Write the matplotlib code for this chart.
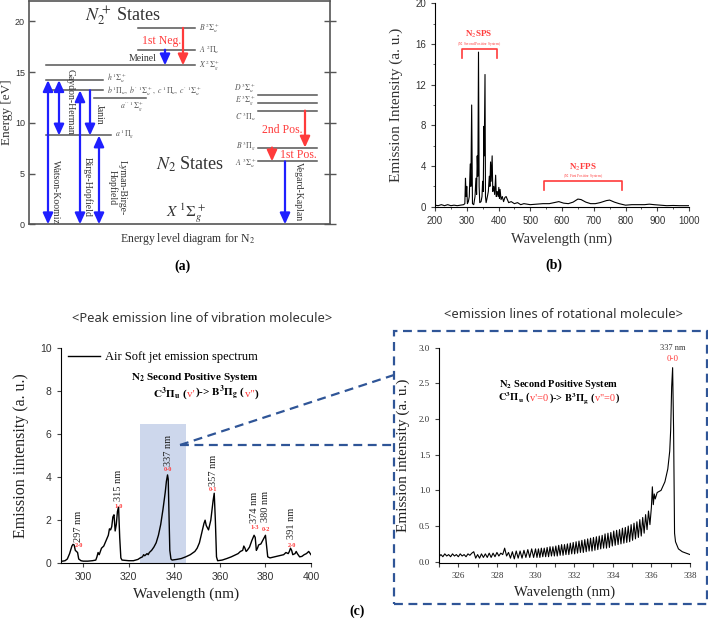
import numpy as np
import matplotlib
matplotlib.use('Agg')
import matplotlib.pyplot as plt
from matplotlib.patches import Rectangle
from matplotlib.lines import Line2D
from matplotlib.transforms import offset_copy
from matplotlib.ticker import MultipleLocator, FormatStrFormatter

plt.rcParams['font.family'] = ['Liberation Serif', 'DejaVu Serif']
plt.rcParams['mathtext.fontset'] = 'stix'

# ---------------- data: panel (a) energy levels ----------------
energy_ticks = [0, 5, 10, 15, 20]
level_labels = [r'$B\ ^2\Sigma_u^+$', r'$A\ ^2\Pi_u$', r'$X\ ^2\Sigma_g^+$',
                r'$h\ ^1\Sigma_u^+$',
                r"$b\ ^1\Pi_u,\ b'\ ^1\Sigma_u^+,\ c\ ^1\Pi_u,\ c'\ ^1\Sigma_u^+$",
                r"$a''\ ^1\Sigma_g^+$", r'$a\ ^1\Pi_g$',
                r'$D\ ^3\Sigma_u^+$', r'$E\ ^3\Sigma_g^+$', r'$C\ ^3\Pi_u$',
                r'$B\ ^3\Pi_g$', r'$A\ ^3\Sigma_u^+$']
level_energy = [19.35, 17.2, 15.66, 14.2, 13.2, 12.4, 8.75, 12.77, 11.95, 11.2, 7.56, 6.2]

trans_names = ['Watson-Koomiz', 'Gaydon-Herman', 'Birge-Hopfield', 'Janin',
               'Lyman-Birge-\nHopfield', 'Meinel', '1st Neg.', '2nd Pos.', '1st Pos.',
               'Vegard-Kaplan']
trans_upper = [14.2, 14.2, 13.2, 13.2, 8.75, 17.2, 19.35, 11.2, 7.56, 6.2]
trans_lower = [0.0, 8.75, 0.0, 8.75, 0.0, 15.66, 15.66, 7.56, 6.2, 0.0]

# ---------------- data: panel (b) full spectrum ----------------
wl_b = [200, 210, 220, 230, 240, 250, 260, 270, 280, 290,
        294, 296, 298, 300, 302, 305, 308, 311, 313, 315.5, 318, 322, 326, 329, 331,
        333, 335, 337, 339, 341, 345, 348, 350, 352, 354, 355, 357.5, 359, 361, 365,
        368, 371, 373, 375, 377, 380, 382, 385, 388, 391, 393, 396, 399, 401, 403,
        405, 408, 412, 416, 420, 424, 428, 432, 440, 450, 460, 470, 480, 500, 520,
        540, 560, 575, 590, 605, 620, 635, 650, 660, 675, 690, 705, 720, 740, 750,
        765, 780, 800, 820, 840, 860, 875, 890, 910, 930, 950, 970, 990, 1000]
int_b = [0.15, 0.1, 0.2, 0.1, 0.2, 0.1, 0.15, 0.1, 0.15, 0.2,
         0.3, 2.8, 1.0, 2.0, 0.3, 0.5, 1.0, 4.2, 2.0, 10.0, 0.3, 0.2, 1.0, 2.8, 1.2,
         5.0, 3.0, 15.2, 2.0, 0.4, 0.5, 1.0, 2.5, 1.5, 7.9, 5.0, 13.0, 1.0, 0.4, 1.0,
         1.5, 3.0, 2.0, 4.4, 2.5, 5.0, 1.5, 2.0, 1.2, 3.1, 1.0, 1.5, 1.0, 1.9, 0.8,
         1.7, 0.7, 1.0, 0.5, 0.9, 1.0, 0.7, 0.4, 0.5, 0.3, 0.4, 0.2, 0.3, 0.2, 0.25,
         0.3, 0.3, 0.4, 0.5, 0.35, 0.3, 0.45, 0.75, 0.7, 0.45, 0.3, 0.3, 0.4, 0.6, 0.65,
         0.45, 0.3, 0.15, 0.2, 0.2, 0.2, 0.25, 0.2, 0.15, 0.1, 0.12, 0.1, 0.1, 0.1]
sps_range = [285, 396]
fps_range = [544, 790]

# ---------------- data: panel (c) vibrational spectrum ----------------
wl_vib = [290, 291, 292, 293, 294, 295, 295.5, 296, 296.5, 297, 297.5, 298, 299, 300,
          302, 304, 305.5, 306, 306.5, 307, 307.5, 308, 309, 310, 311, 311.5, 312, 312.5,
          313, 313.5, 314, 314.5, 315, 315.5, 316, 316.5, 317, 320, 322, 324, 325, 326,
          326.5, 327, 328, 328.5, 329, 330, 331, 332, 333, 334, 335, 336, 336.5, 337,
          337.3, 337.7, 338, 338.5, 339, 341, 343, 345, 347, 349, 350, 351, 352, 353,
          353.5, 354, 355, 356, 357, 357.5, 358, 358.5, 359, 361, 363, 365, 367, 368,
          369, 370, 370.5, 371, 371.5, 372, 373, 374, 375, 375.5, 376, 376.5, 377, 378,
          379, 380, 380.5, 381, 382, 384, 386, 388, 389, 390, 390.5, 391, 391.5, 392,
          393, 393.5, 394, 395, 396, 397, 398, 399, 400]
int_vib = [0.10, 0.10, 0.12, 0.20, 0.45, 0.80, 0.88, 0.85, 0.60, 0.55, 0.50, 0.20, 0.12, 0.10,
           0.10, 0.12, 0.15, 0.30, 0.50, 0.40, 0.55, 0.70, 0.80, 1.05, 1.30, 1.60, 1.55, 1.70,
           2.15, 2.25, 1.50, 1.80, 2.40, 2.60, 1.20, 0.25, 0.15, 0.12, 0.12, 0.18, 0.25, 0.30,
           0.40, 0.35, 0.45, 0.40, 0.50, 0.60, 0.75, 0.95, 1.30, 1.80, 2.50, 3.30, 3.80, 4.10,
           3.90, 2.00, 0.60, 0.20, 0.15, 0.18, 0.22, 0.30, 0.40, 0.55, 0.70, 0.95, 1.40, 1.85,
           2.00, 1.75, 1.55, 2.00, 2.90, 3.25, 2.00, 0.30, 0.12, 0.15, 0.22, 0.30, 0.40, 0.45,
           0.55, 0.60, 0.80, 0.70, 0.55, 0.60, 0.75, 1.05, 1.30, 1.20, 0.60, 0.70, 0.85, 0.90,
           1.10, 1.30, 0.80, 0.30, 0.25, 0.30, 0.35, 0.40, 0.50, 0.45, 0.55, 0.70, 0.60, 0.40,
           0.45, 0.55, 0.45, 0.30, 0.32, 0.40, 0.45, 0.55, 0.40]
peak_names = ['297 nm', '315 nm', '337 nm', '357 nm', '374 nm', '380 nm', '391 nm']
peak_bands = ['2-0', '1-0', '0-0', '0-1', '1-3', '0-2', '2-0']
peak_label_x = [298.1, 315.4, 337.3, 357.1, 375.1, 380.1, 391.5]
peak_label_y = [1.0, 2.9, 4.5, 3.6, 1.85, 1.9, 1.15]
peak_band_y = [0.82, 2.62, 4.33, 3.43, 1.65, 1.59, 0.82]
zoom_range = [325, 345]
zoom_height = 6.45

# ---------------- data: panel (c) rotational spectrum ----------------
wl_rot = [325.0, 325.1, 325.2, 325.3, 325.4, 325.5, 325.6, 325.7, 325.8, 325.9,
          326.0, 326.1, 326.2, 326.3, 326.4, 326.5, 326.6, 326.7, 326.8, 326.9,
          327.0, 327.1, 327.2, 327.3, 327.4, 327.5, 327.6, 327.7, 327.8, 327.9,
          328.0, 328.1, 328.2, 328.3, 328.4, 328.5, 328.6, 328.7, 328.8, 328.9,
          329.0, 329.1, 329.2, 329.3, 329.4, 329.5, 329.6, 329.7, 329.8, 329.9,
          330.0, 330.075, 330.15, 330.225, 330.3, 330.375, 330.45, 330.525, 330.6, 330.675,
          330.75, 330.825, 330.9, 330.975, 331.05, 331.125, 331.2, 331.275, 331.35, 331.425,
          331.5, 331.575, 331.65, 331.725, 331.8, 331.875, 331.95, 332.025, 332.1, 332.175,
          332.25, 332.325, 332.4, 332.475, 332.55, 332.625, 332.7, 332.775, 332.85, 332.925,
          333.0, 333.075, 333.15, 333.225, 333.3, 333.375, 333.45, 333.525, 333.6, 333.675,
          333.75, 333.825, 333.9, 333.975, 334.05, 334.125, 334.2, 334.275, 334.35, 334.425,
          334.5, 334.575, 334.65, 334.725, 334.8, 334.875, 334.95, 335.025, 335.1, 335.175,
          335.25, 335.325, 335.4, 335.475, 335.55, 335.625, 335.7, 335.775, 335.85, 335.925,
          336.0, 336.05, 336.1, 336.15, 336.2, 336.3, 336.5, 336.7, 336.85, 336.95,
          337.0, 337.05, 337.1, 337.15, 337.2, 337.25, 337.4, 337.6, 337.8, 338.0]
int_rot = [0.07, 0.10, 0.07, 0.11, 0.08, 0.10, 0.07, 0.11, 0.08, 0.10,
           0.07, 0.11, 0.08, 0.10, 0.07, 0.11, 0.09, 0.12, 0.14, 0.05,
           0.10, 0.05, 0.11, 0.06, 0.11, 0.06, 0.12, 0.06, 0.12, 0.07,
           0.13, 0.08, 0.12, 0.10, 0.19, 0.08, 0.13, 0.05, 0.14, 0.04,
           0.15, 0.05, 0.15, 0.05, 0.16, 0.06, 0.17, 0.06, 0.18, 0.06,
           0.18, 0.06, 0.18, 0.06, 0.19, 0.07, 0.19, 0.07, 0.20, 0.07,
           0.21, 0.08, 0.21, 0.08, 0.22, 0.08, 0.23, 0.09, 0.24, 0.09,
           0.24, 0.10, 0.25, 0.10, 0.26, 0.11, 0.27, 0.11, 0.28, 0.12,
           0.29, 0.13, 0.30, 0.13, 0.31, 0.14, 0.32, 0.15, 0.33, 0.15,
           0.34, 0.16, 0.35, 0.17, 0.36, 0.18, 0.37, 0.19, 0.39, 0.19,
           0.40, 0.20, 0.41, 0.22, 0.43, 0.23, 0.44, 0.24, 0.45, 0.25,
           0.47, 0.26, 0.48, 0.27, 0.50, 0.28, 0.52, 0.30, 0.54, 0.32,
           0.56, 0.34, 0.59, 0.36, 0.62, 0.40, 0.66, 0.45, 0.71, 0.52,
           0.76, 1.05, 0.80, 0.95, 0.88, 0.97, 1.00, 1.12, 1.30, 1.55,
           1.85, 2.45, 2.72, 1.85, 0.40, 0.28, 0.18, 0.14, 0.12, 0.10]

# ---------------- figure helpers ----------------
W, H = 708, 619
fig = plt.figure(figsize=(W / 100, H / 100), dpi=100)
RED = '#ff3b3b'
BLUE = '#1f1fff'
DBLUE = '#2f5597'


def rect(x0, y0, x1, y1):
    return [x0 / W, 1 - y1 / H, (x1 - x0) / W, (y1 - y0) / H]


def fpt(x, y):
    return x / W, 1 - y / H


def sans_ticks(ax, size):
    for lab in ax.get_xticklabels() + ax.get_yticklabels():
        lab.set_family('Liberation Sans')
        lab.set_size(size)


def multicolor(ax, x, y, parts, size):
    renderer = fig.canvas.get_renderer()
    dx = 0.0
    for s, c, st in parts:
        tr = offset_copy(ax.transData, fig=fig, x=dx, y=0, units='dots')
        t = ax.text(x, y, s, color=c, size=size, fontweight='bold' if st == 'b' else 'normal',
                    transform=tr, ha='left', va='baseline')
        dx += t.get_window_extent(renderer).width


# ================= panel (a) =================
axA = fig.add_axes(rect(29, 1, 330, 224.3))
axA.set_xlim(29, 330)
axA.set_ylim(0, 22)
for s in axA.spines.values():
    s.set_color('#555')
    s.set_linewidth(1.2)
axA.set_xticks([])
axA.set_yticks(energy_ticks)
axA.tick_params(axis='y', direction='in', length=4, width=1, color='#555',
                labelcolor='#333', pad=3)
sans_ticks(axA, 6.5)
axA.set_ylabel('Energy [eV]', size=9.5, color='#333', labelpad=1)
axA2 = axA.twinx()
axA2.set_ylim(0, 22)
axA2.set_yticks(energy_ticks)
axA2.tick_params(axis='y', direction='inout', length=9, width=1, color='#555', labelright=False)
for s in axA2.spines.values():
    s.set_visible(False)

level_x0 = [138, 138, 46, 46, 46, 94, 46, 258, 258, 258, 258, 258]
level_x1 = [195, 195, 195, 103, 103, 146, 111, 317, 317, 317, 317, 317]
label_pos = [(199, 19.35, 'left'), (199, 17.2, 'left'), (199, 15.66, 'left'),
             (107, 14.45, 'left'), (107, 13.15, 'left'), (120, 11.6, 'left'),
             (115, 8.85, 'left'), (256, 13.45, 'right'), (256, 12.2, 'right'),
             (256, 10.6, 'right'), (256, 7.66, 'right'), (256, 6.0, 'right')]
for lab, e, x0, x1, (lx, ly, ha) in zip(level_labels, level_energy, level_x0, level_x1, label_pos):
    axA.plot([x0, x1], [e, e], color='#555', lw=1.1)
    axA.text(lx, ly, lab, size=5.6, color='#555', ha=ha, va='center')

arrow_x = [48, 59, 80, 90, 99, 165, 183, 305, 272, 285]
two_head = [True, True, True, False, True, False, False, False, False, False]
arrow_col = [BLUE, BLUE, BLUE, BLUE, BLUE, BLUE, RED, RED, RED, BLUE]
tlabel_pos = [(55, 3.2, 270), (70, 12.1, 270), (88, 3.7, 270), (99, 10.8, 270),
              (117, 3.6, 270), (143, 16.3, 0), (162, 18.1, 0), (282, 9.3, 0),
              (298, 6.8, 0), (298, 3.2, 270)]
for name, up, lo, x, two, col, (lx, ly, rot) in zip(trans_names, trans_upper, trans_lower,
                                                    arrow_x, two_head, arrow_col, tlabel_pos):
    style = ('<|-|>' if two else '-|>') + ',head_length=0.55,head_width=0.25'
    axA.annotate('', xy=(x, lo), xytext=(x, up),
                 arrowprops=dict(arrowstyle=style, color=col, lw=1.6, shrinkA=0, shrinkB=0,
                                 mutation_scale=12))
    if col == RED:
        axA.text(lx, ly, name, color=RED, size=8.5, ha='center', va='center')
    else:
        axA.text(lx, ly, name, color='#333', size=7, ha='center', va='center', rotation=rot,
                 linespacing=1.0)

axA.text(123, 20.5, r'$N_2^+$ States', size=13, color='#333', ha='center', va='center')
axA.text(190, 5.95, r'$N_2$ States', size=13, color='#333', ha='center', va='center')
axA.text(186, 1.1, r'$X\ ^1\Sigma_g^+$', size=11, color='#333', ha='center', va='center')

fig.text(*fpt(188, 239), r'Energy level diagram for N$_2$', size=8.5, color='#333',
         ha='center', va='center')
fig.text(*fpt(183, 266), '(a)', size=10, fontweight='bold', ha='center', va='center')

# ================= panel (b) =================
axB = fig.add_axes(rect(435, 3.3, 689, 206.7))
axB.plot(wl_b, int_b, color='k', lw=0.8)
axB.set_xlim(200, 1000)
axB.set_ylim(0, 20)
axB.spines['top'].set_visible(False)
axB.spines['right'].set_visible(False)
axB.set_xticks(range(200, 1001, 100))
axB.set_yticks(range(0, 21, 4))
axB.xaxis.set_minor_locator(MultipleLocator(50))
axB.yaxis.set_minor_locator(MultipleLocator(2))
axB.tick_params(which='major', length=3, width=0.8, color='#444', labelcolor='#333')
axB.tick_params(which='minor', length=1.5, width=0.6, color='#444')
sans_ticks(axB, 7)
axB.set_xlabel('Wavelength (nm)', size=10.5, color='#333', labelpad=5)
axB.set_ylabel('Emission Intensity (a. u.)', size=11, color='#333', labelpad=9)
axB.plot([sps_range[0], sps_range[0], sps_range[1], sps_range[1]], [14.6, 15.5, 15.5, 14.6],
         color=RED, lw=1.2)
axB.plot([fps_range[0], fps_range[0], fps_range[1], fps_range[1]], [1.6, 2.55, 2.55, 1.6],
         color=RED, lw=1.2)
axB.text(337, 16.9, r'N$_2$SPS', color=RED, size=6.5, fontweight='bold', ha='center', va='center')
axB.text(340, 16.0, r'(N$_2$ Second Positive System)', color=RED, size=2.6, ha='center', va='center')
axB.text(666, 3.9, r'N$_2$FPS', color=RED, size=6.5, fontweight='bold', ha='center', va='center')
axB.text(666, 3.05, r'(N$_2$ First Positive System)', color=RED, size=2.6, ha='center', va='center')
fig.text(*fpt(554, 265), '(b)', size=10, fontweight='bold', ha='center', va='center')

# ================= panel (c) left =================
axC = fig.add_axes(rect(60.5, 347.7, 311, 563.3))
axC.add_patch(Rectangle((zoom_range[0], 0), zoom_range[1] - zoom_range[0], zoom_height,
                        facecolor='#cdd7ec', edgecolor='none', zorder=0))
axC.plot(wl_vib, int_vib, color='k', lw=1.0, label='Air Soft jet emission spectrum')
axC.set_xlim(290, 400)
axC.set_ylim(0, 10)
axC.spines['top'].set_visible(False)
axC.spines['right'].set_visible(False)
axC.set_xticks(range(300, 401, 20))
axC.set_yticks(range(0, 11, 2))
axC.tick_params(length=3, width=0.8, color='#444', labelcolor='#333')
sans_ticks(axC, 7.5)
axC.set_xlabel('Wavelength (nm)', size=11, color='#222', labelpad=4)
axC.set_ylabel('Emission iintensity (a. u.)', size=11.5, color='#222', labelpad=8)
axC.legend(loc='upper left', bbox_to_anchor=(-0.015, 1.035), frameon=False, fontsize=9,
           handlelength=2.6, handletextpad=0.4)
for name, band, lx, ly, by in zip(peak_names, peak_bands, peak_label_x, peak_label_y, peak_band_y):
    axC.text(lx, ly, name, rotation=90, size=7.5, color='#222', ha='center', va='bottom')
    axC.text(lx, by, band, size=4.5, color=RED, fontweight='bold', ha='center', va='center')
axC.text(349, 8.64, r'$\mathbf{N_2}$ Second Positive System', size=8, fontweight='bold',
         ha='center', va='center')
multicolor(axC, 330.6, 7.72,
           [(r'$\mathbf{C^3\Pi_u}$ (', 'k', 'b'), ("v'", RED, 'n'),
            (r')-> $\mathbf{B^3\Pi_g}$ (', 'k', 'b'), ("v''", RED, 'n'), (')', 'k', 'b')], 8)
fig.text(*fpt(202, 318), '<Peak emission line of vibration molecule>', family='Noto Sans',
         size=9.3, color='#333', ha='center', va='center')

# ================= panel (c) right =================
axD = fig.add_axes(rect(439, 347.7, 690, 563))
axD.plot(wl_rot, int_rot, color='k', lw=0.8)
axD.set_xlim(325, 338)
axD.set_ylim(-0.018, 3.0)
axD.spines['top'].set_visible(False)
axD.spines['right'].set_visible(False)
axD.set_xticks(range(326, 339, 2))
axD.xaxis.set_minor_locator(MultipleLocator(1))
axD.set_yticks([0.0, 0.5, 1.0, 1.5, 2.0, 2.5, 3.0])
axD.yaxis.set_major_formatter(FormatStrFormatter('%.1f'))
axD.tick_params(which='major', length=3, width=0.8, color='#444', labelcolor='#333', labelsize=6.5)
axD.tick_params(which='minor', length=3, width=0.8, color='#444')
axD.set_xlabel('Wavelength (nm)', size=10.5, color='#222', labelpad=4)
axD.set_ylabel('Emission intensity (a. u.)', size=11, color='#222', labelpad=6)
axD.text(337.1, 3.0, '337 nm', size=6, color='#333', ha='center', va='center')
axD.text(337.1, 2.84, '0-0', size=6.5, color=RED, ha='center', va='center')
axD.text(331.2, 2.49, r'$\mathbf{N_2}$ Second Positive System', size=7.5, fontweight='bold',
         ha='center', va='center')
multicolor(axD, 328.06, 2.25,
           [(r'$\mathbf{C^3\Pi_u}$ (', 'k', 'b'), ("v'=0", RED, 'n'),
            (r')-> $\mathbf{B^3\Pi_g}$ (', 'k', 'b'), ("v''=0", RED, 'n'), (')', 'k', 'b')], 7.5)
fig.text(*fpt(563, 315), '<emission lines of rotational molecule>', family='Noto Sans',
         size=9.3, color='#333', ha='center', va='center')

# dashed zoom box and connectors
x0, y0 = fpt(394, 604)
x1, y1 = fpt(706.5, 331)
fig.add_artist(Rectangle((x0, y0), x1 - x0, y1 - y0, transform=fig.transFigure, fill=False,
                         edgecolor=DBLUE, lw=1.6, linestyle=(0, (4, 2.5))))
sx, sy = fpt(180, 445)
ex1, ey1 = fpt(394, 375)
ex2, ey2 = fpt(394, 445)
fig.add_artist(Line2D([sx, ex1], [sy, ey1], transform=fig.transFigure, color=DBLUE, lw=1.6,
                      linestyle=(0, (4, 2.5))))
fig.add_artist(Line2D([sx, ex2], [sy, ey2], transform=fig.transFigure, color=DBLUE, lw=1.6,
                      linestyle=(0, (4, 2.5))))
fig.text(*fpt(357, 611), '(c)', size=10, fontweight='bold', ha='center', va='center')

fig.savefig('out.png', dpi=100)
